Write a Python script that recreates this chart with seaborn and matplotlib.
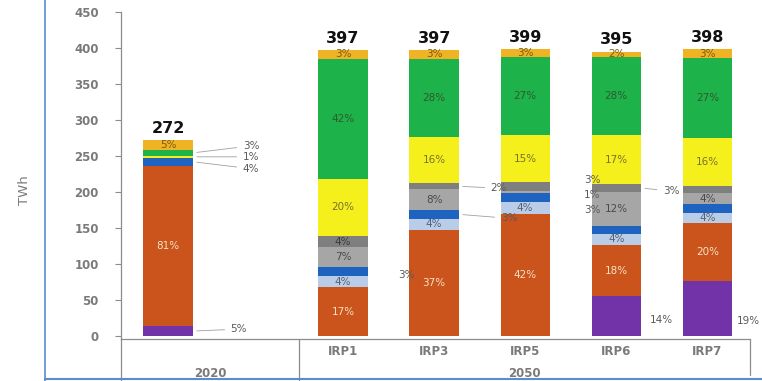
import matplotlib
matplotlib.use("Agg")
import matplotlib.pyplot as plt
import matplotlib.transforms as mtransforms
from matplotlib.lines import Line2D
import seaborn as sns
import pandas as pd

# ---------------- data ----------------
scenarios = ["2020", "IRP1", "IRP3", "IRP5", "IRP6", "IRP7"]
periods = ["2020", "2050"]
totals = [272, 397, 397, 399, 395, 398]

# TWh per technology (bottom -> top of each stack)
purple     = [13.6, 0.0,   0.0,   0.0,   55.3,  76.0]
orange     = [223.0, 67.5, 147.0, 170.0, 71.1,  81.0]
light_blue = [0.0,  15.9,  16.0,  16.0,  15.8,  14.0]
blue       = [10.9, 11.9,  12.0,  12.0,  10.0,  12.0]
light_grey = [0.0,  27.8,  29.0,  4.0,   47.4,  15.0]
dark_grey  = [0.0,  15.9,  8.0,   12.0,  11.9,  11.0]
yellow     = [2.7,  79.4,  64.0,  65.0,  67.0,  66.0]
green      = [8.2,  166.7, 109.0, 108.0, 108.6, 111.0]
gold       = [13.6, 11.9,  12.0,  12.0,  7.9,   12.0]

# share labels printed inside the segments
lbl_purple     = ["", "", "", "", "", ""]
lbl_orange     = ["81%", "17%", "37%", "42%", "18%", "20%"]
lbl_light_blue = ["", "4%", "4%", "4%", "4%", "4%"]
lbl_blue       = ["", "", "", "", "", ""]
lbl_light_grey = ["", "7%", "8%", "", "12%", "4%"]
lbl_dark_grey  = ["", "4%", "", "", "", ""]
lbl_yellow     = ["", "20%", "16%", "15%", "17%", "16%"]
lbl_green      = ["", "42%", "28%", "27%", "28%", "27%"]
lbl_gold       = ["5%", "3%", "3%", "3%", "2%", "3%"]

# labels printed outside the bars: (scenario, series, text)
callout_scen   = ["2020", "2020", "2020", "2020", "IRP1", "IRP3", "IRP3", "IRP5", "IRP5", "IRP5", "IRP6", "IRP6", "IRP7"]
callout_series = ["green", "yellow", "blue", "purple", "blue", "dark_grey", "blue",
                  "dark_grey", "light_grey", "blue", "dark_grey", "purple", "purple"]
callout_text   = ["3%", "1%", "4%", "5%", "3%", "2%", "3%", "3%", "1%", "3%", "3%", "14%", "19%"]

# ---------------- style / layout ----------------
series_order = ["purple", "orange", "light_blue", "blue", "light_grey",
                "dark_grey", "yellow", "green", "gold"]
series_vals = [purple, orange, light_blue, blue, light_grey, dark_grey, yellow, green, gold]
series_lbls = [lbl_purple, lbl_orange, lbl_light_blue, lbl_blue, lbl_light_grey,
               lbl_dark_grey, lbl_yellow, lbl_green, lbl_gold]
colors = {
    "purple": "#7232A8", "orange": "#CB531C", "light_blue": "#BACDE8",
    "blue": "#1F63C0", "light_grey": "#A6A6A6", "dark_grey": "#7F7F7F",
    "yellow": "#F5F01C", "green": "#1EB24A", "gold": "#F0B323",
}
text_colors = {
    "purple": "#EEE", "orange": "#F7E3C4", "light_blue": "#5A6070",
    "blue": "#DDD", "light_grey": "#4A4A4A", "dark_grey": "#3A3A3A",
    "yellow": "#77722E", "green": "#2F5A2F", "gold": "#7A5A10",
}
positions = [0.0, 1.92, 2.92, 3.92, 4.92, 5.92]
bar_w = 0.54
# callout placement (pixels): horizontal offset from bar right edge, vertical offset
callout_dx = [50, 50, 50, 38, 31, 32, 42, 34, 34, 34, 22, 9, 5]
callout_dy = [7, 0, -7, 2, -3, -2, -4, 6, -3, -12, -3, -4, -12]
callout_leader = [True, True, True, True, False, True, True, False, False, False, True, False, False]

sns.set_style("white")
plt.rcParams["font.family"] = ["DejaVu Sans"]

rows = []
cum = [0.0] * len(scenarios)
for name, vals, lbls in zip(series_order, series_vals, series_lbls):
    for i, sc in enumerate(scenarios):
        b = cum[i]
        cum[i] += vals[i]
        rows.append(dict(scenario=sc, pos=positions[i], series=name, value=vals[i],
                         bottom=b, top=cum[i], label=lbls[i]))
df = pd.DataFrame(rows)

fig = plt.figure(figsize=(7.62, 3.81), dpi=100, facecolor="white")
ax = fig.add_axes([0.159, 0.1102, 0.8255, 0.8583])
ax.set_facecolor("white")

for name in reversed(series_order):
    sub = df[df["series"] == name]
    sns.barplot(data=sub, x="pos", y="top", native_scale=True, width=bar_w,
                color=colors[name], saturation=1, errorbar=None, linewidth=0, ax=ax)

ax.set_xlim(-0.515, 6.39)
ax.set_ylim(-4.2, 450)
ax.set_yticks(range(0, 451, 50))
ax.set_xticks([])
ax.set_xlabel("")
ax.set_ylabel("")
for s in ["top", "right"]:
    ax.spines[s].set_visible(False)
for s in ["left", "bottom"]:
    ax.spines[s].set_color("#8C8C8C")
    ax.spines[s].set_linewidth(0.9)
ax.tick_params(axis="y", direction="out", length=4, width=0.8, color="#8C8C8C",
               pad=12, labelsize=8.5, labelcolor="#7A7A7A", left=True)
for t in ax.get_yticklabels():
    t.set_fontweight("bold")

px = 0.72  # points per pixel
# inside labels
for _, r in df.iterrows():
    if r["label"]:
        ax.text(r["pos"], (r["bottom"] + r["top"]) / 2, r["label"], ha="center", va="center",
                fontsize=7.5, color=text_colors[r["series"]])

# totals
for i, sc in enumerate(scenarios):
    ax.annotate(str(totals[i]), xy=(positions[i], cum[i]), xytext=(0, 3),
                textcoords="offset points", ha="center", va="bottom",
                fontsize=11.5, fontweight="bold", color="#111111")

# callouts
for sc, se, tx, dx, dy, ld in zip(callout_scen, callout_series, callout_text,
                                  callout_dx, callout_dy, callout_leader):
    r = df[(df["scenario"] == sc) & (df["series"] == se)].iloc[0]
    yc = (r["bottom"] + r["top"]) / 2
    xe = r["pos"] + bar_w / 2
    kw = {}
    if ld:
        kw["arrowprops"] = dict(arrowstyle="-", color="#A0A0A0", lw=0.6, shrinkA=2, shrinkB=3)
    ax.annotate(tx, xy=(xe, yc), xytext=(dx * px, dy * px), textcoords="offset points",
                ha="left", va="center", fontsize=7.5, color="#5A5A5A", **kw)

# category table beneath the axis
trans = mtransforms.blended_transform_factory(ax.transData, ax.transAxes)
x_left, x_div, x_right = -0.515, 1.436, 6.39
line_kw = dict(color="#8C8C8C", lw=0.9, transform=trans, clip_on=False)
ax.plot([x_left, x_left], [0, -0.14], **line_kw)
ax.plot([x_div, x_div], [0, -0.14], **line_kw)
ax.plot([x_right, x_right], [0, -0.11], **line_kw)
for i, sc in enumerate(scenarios[1:], start=1):
    ax.text(positions[i], -0.037, sc, transform=trans, ha="center", va="center",
            fontsize=8.5, fontweight="bold", color="#7A7A7A")
ax.text((x_left + x_div) / 2, -0.104, periods[0], transform=trans, ha="center", va="center",
        fontsize=8.5, fontweight="bold", color="#7A7A7A")
ax.text((x_div + x_right) / 2, -0.104, periods[1], transform=trans, ha="center", va="center",
        fontsize=8.5, fontweight="bold", color="#7A7A7A")

fig.text(25 / 762, 1 - 190 / 381, "TWh", rotation=90, ha="center", va="center",
         fontsize=9.5, color="#7A7A7A")

# blue frame of the slide
fig.add_artist(Line2D([45 / 762, 45 / 762], [0, 1], color="#5B8BD0", lw=1.2))
fig.add_artist(Line2D([45 / 762, 1], [2 / 381, 2 / 381], color="#5B8BD0", lw=1.5))

fig.savefig("out.png", dpi=100, facecolor=fig.get_facecolor())
